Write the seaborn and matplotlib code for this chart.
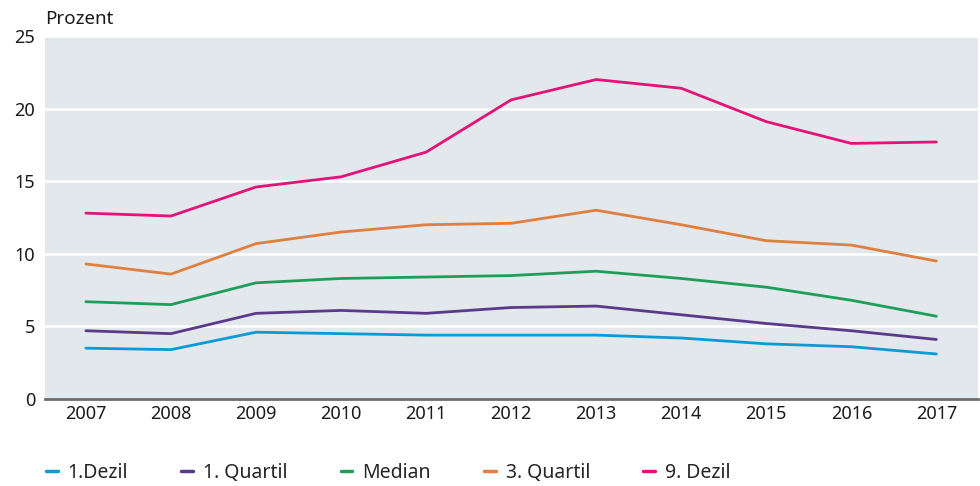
import pandas as pd
import matplotlib
matplotlib.use("Agg")
import matplotlib.pyplot as plt
import seaborn as sns

# data
years = [2007, 2008, 2009, 2010, 2011, 2012, 2013, 2014, 2015, 2016, 2017]
dezil_1 = [3.5, 3.4, 4.6, 4.5, 4.4, 4.4, 4.4, 4.2, 3.8, 3.6, 3.1]
quartil_1 = [4.7, 4.5, 5.9, 6.1, 5.9, 6.3, 6.4, 5.8, 5.2, 4.7, 4.1]
median = [6.7, 6.5, 8.0, 8.3, 8.4, 8.5, 8.8, 8.3, 7.7, 6.8, 5.7]
quartil_3 = [9.3, 8.6, 10.7, 11.5, 12.0, 12.1, 13.0, 12.0, 10.9, 10.6, 9.5]
dezil_9 = [12.8, 12.6, 14.6, 15.3, 17.0, 20.6, 22.0, 21.4, 19.1, 17.6, 17.7]

series_names = ["1.Dezil", "1. Quartil", "Median", "3. Quartil", "9. Dezil"]
series_vals = [dezil_1, quartil_1, median, quartil_3, dezil_9]
colors = ["#0a9ad7", "#5b3a8c", "#1e9e5a", "#e07f3f", "#e3137a"]

rows = []
for name, vals in zip(series_names, series_vals):
    for y, v in zip(years, vals):
        rows.append({"Jahr": y, "Wert": v, "Reihe": name})
df = pd.DataFrame(rows)

sns.set_style("whitegrid")
plt.rcParams['font.family'] = ['Noto Sans', 'DejaVu Sans']

fig = plt.figure(figsize=(9.8, 4.86), dpi=100)
ax = fig.add_axes([0.046, 0.179, 0.952, 0.747])
ax.set_facecolor("#e3e8ec")

sns.lineplot(data=df, x="Jahr", y="Wert", hue="Reihe", hue_order=series_names,
             palette=colors, linewidth=2.0, ax=ax, legend=False)

ax.set_xlim(2006.52, 2017.49)
ax.set_ylim(0, 25)
ax.set_xticks(years)
ax.set_yticks([0, 5, 10, 15, 20, 25])
ax.grid(axis="y", color="white", linewidth=1.8)
ax.grid(axis="x", visible=False)
ax.set_xlabel("")
ax.set_ylabel("")
for s in ["top", "left", "right"]:
    ax.spines[s].set_visible(False)
ax.spines["bottom"].set_color("#6e6e6e")
ax.spines["bottom"].set_linewidth(2)
ax.tick_params(axis="both", length=0, labelsize=13, colors="#1a1a1a")
ax.tick_params(axis="y", pad=7)
ax.tick_params(axis="x", pad=4)

fig.text(0.046, 0.961, "Prozent", fontsize=13.5, color="#1a1a1a", va="center", ha="left")

handles = [plt.Line2D([], [], color=c, linewidth=2.5) for c in colors]
fig.legend(handles, series_names, loc="center left", bbox_to_anchor=(0.029, 0.027),
           ncol=5, frameon=False, fontsize=14, handlelength=0.6,
           handletextpad=0.5, columnspacing=2.75)

fig.savefig("out.png", dpi=100)
